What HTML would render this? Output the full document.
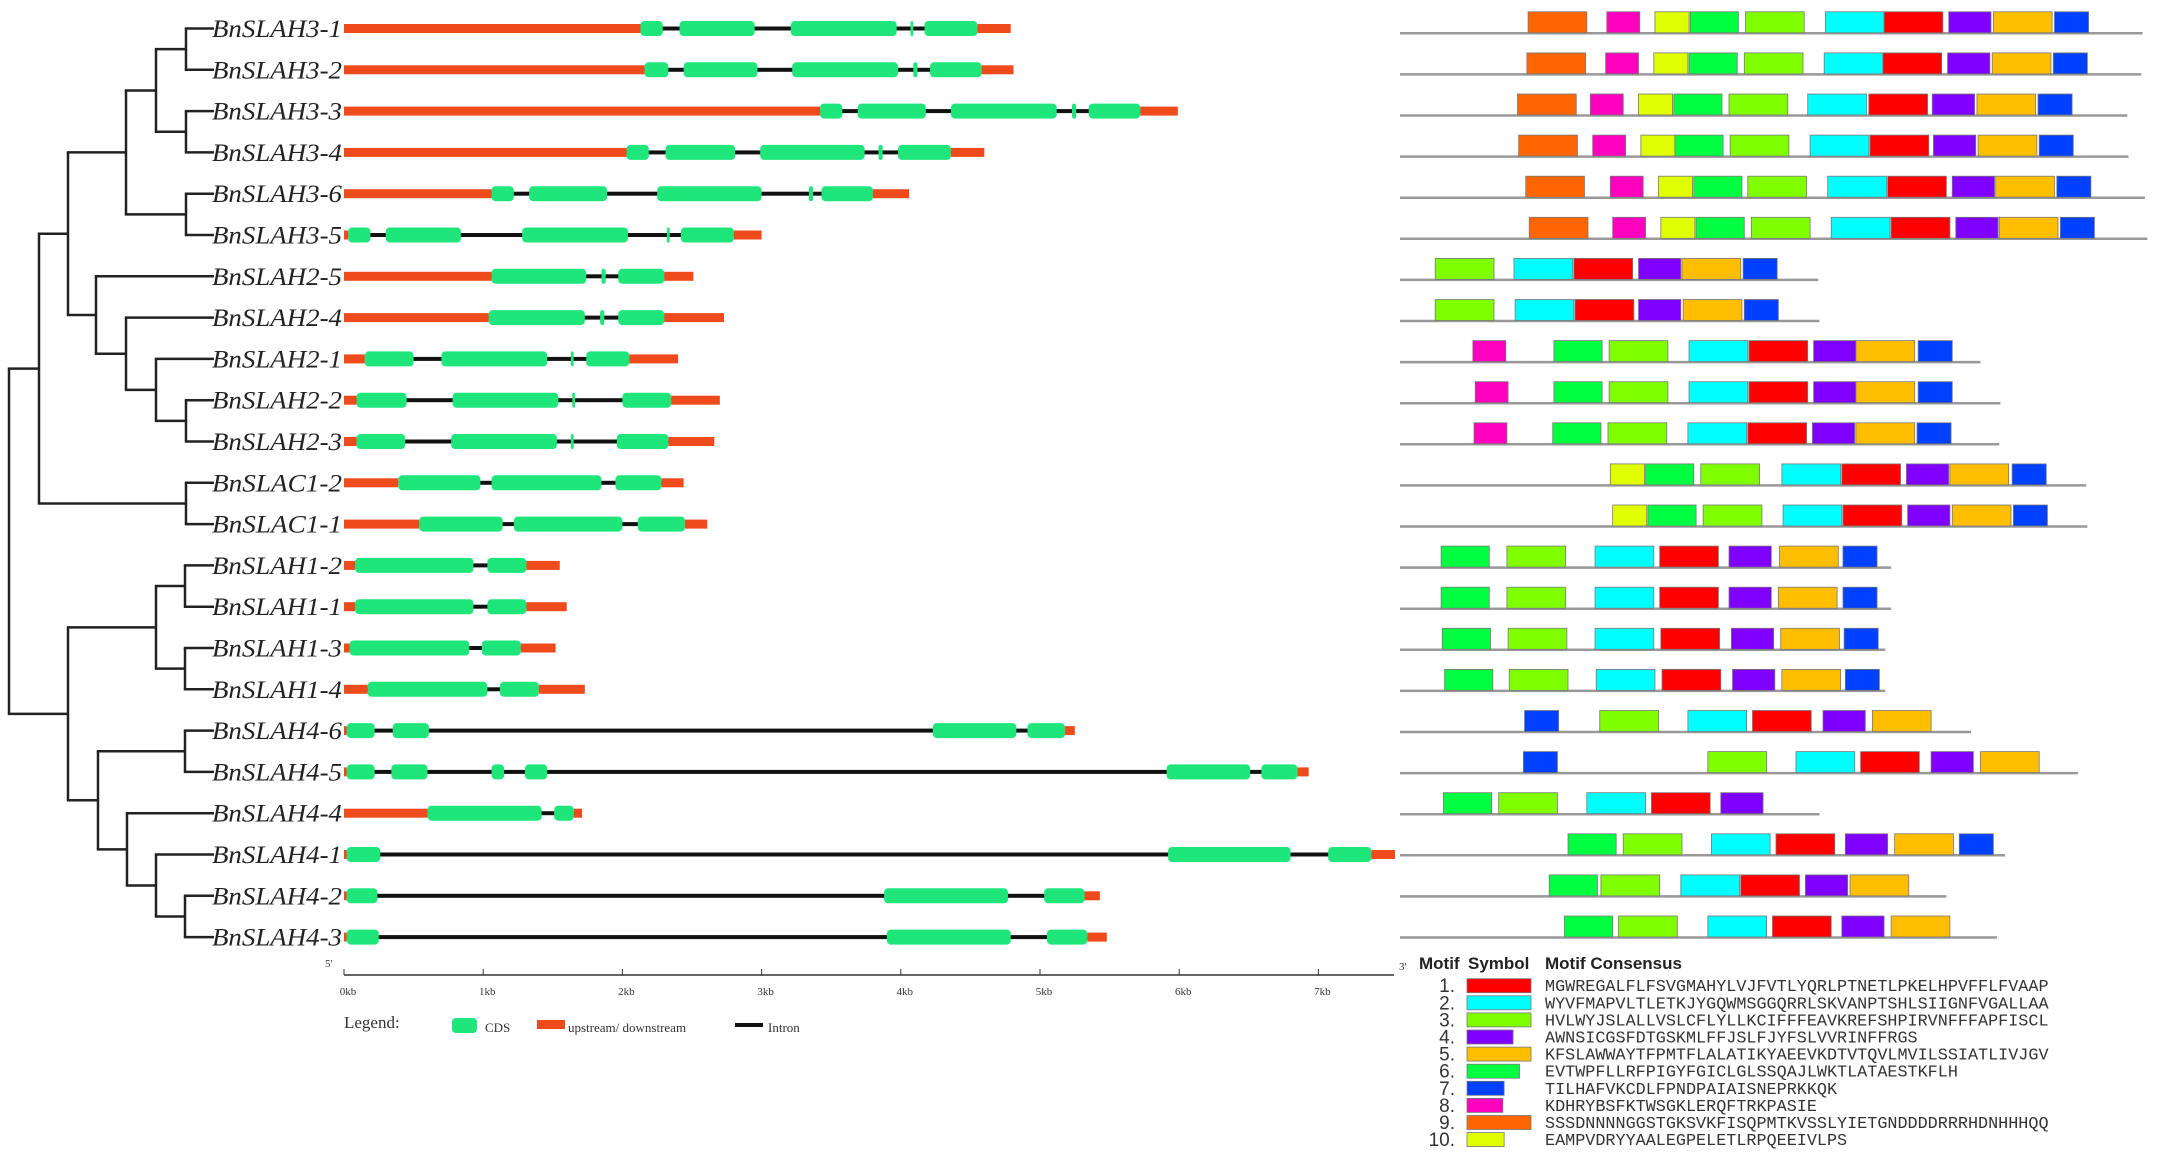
<!DOCTYPE html>
<html><head><meta charset="utf-8"><style>
html,body{margin:0;padding:0;background:#fff;}
svg{display:block;}
</style></head><body>
<svg id="fig" xmlns="http://www.w3.org/2000/svg" width="2168" height="1161" viewBox="0 0 2168 1161">
<rect width="2168" height="1161" fill="#fff"/>
<g id="tree"></g>
<g id="labels"></g>
<g id="genes"></g>
<g id="axis"></g>
<g id="motifs"></g>
<g id="glegend">
  <text x="344" y="1028" font-family="Liberation Serif, serif" font-size="17" fill="#333">Legend:</text>
  <rect x="452" y="1018" width="25" height="15" rx="4" fill="#1ee67a"/>
  <text x="485" y="1032" font-family="Liberation Serif, serif" font-size="13" fill="#333">CDS</text>
  <rect x="537" y="1020" width="28" height="9" fill="#ee4a1c"/>
  <text x="568" y="1032" font-family="Liberation Serif, serif" font-size="13" fill="#333">upstream/ downstream</text>
  <rect x="735" y="1023" width="28" height="4" fill="#111"/>
  <text x="768" y="1032" font-family="Liberation Serif, serif" font-size="13" fill="#333">Intron</text>
</g>
<g id="mlegend"></g>
</svg>
<script>
const geneNames=["BnSLAH3-1","BnSLAH3-2","BnSLAH3-3","BnSLAH3-4","BnSLAH3-6","BnSLAH3-5","BnSLAH2-5","BnSLAH2-4","BnSLAH2-1","BnSLAH2-2","BnSLAH2-3","BnSLAC1-2","BnSLAC1-1","BnSLAH1-2","BnSLAH1-1","BnSLAH1-3","BnSLAH1-4","BnSLAH4-6","BnSLAH4-5","BnSLAH4-4","BnSLAH4-1","BnSLAH4-2","BnSLAH4-3"];
// gene lengths (kb)
const geneLengths=[4.79,4.81,5.99,4.60,4.06,3.00,2.51,2.73,2.40,2.70,2.66,2.44,2.61,1.55,1.60,1.52,1.73,5.25,6.93,1.71,7.55,5.43,5.48];
// CDS exons [start,end] in kb
const geneExons=[
[[2.13,2.29],[2.41,2.95],[3.21,3.97],[4.07,4.09],[4.17,4.55]],
[[2.16,2.33],[2.44,2.97],[3.22,3.98],[4.09,4.12],[4.21,4.58]],
[[3.42,3.58],[3.69,4.18],[4.36,5.12],[5.23,5.26],[5.35,5.72]],
[[2.03,2.19],[2.31,2.81],[2.99,3.74],[3.84,3.87],[3.98,4.36]],
[[1.06,1.22],[1.33,1.89],[2.25,3.00],[3.34,3.37],[3.43,3.80]],
[[0.03,0.19],[0.30,0.84],[1.28,2.04],[2.32,2.34],[2.42,2.80]],
[[1.06,1.74],[1.85,1.88],[1.97,2.30]],
[[1.04,1.73],[1.84,1.87],[1.97,2.30]],
[[0.15,0.50],[0.70,1.46],[1.63,1.65],[1.74,2.05]],
[[0.09,0.45],[0.78,1.54],[1.64,1.66],[2.00,2.35]],
[[0.09,0.44],[0.77,1.53],[1.63,1.65],[1.96,2.33]],
[[0.39,0.98],[1.06,1.85],[1.95,2.28]],
[[0.54,1.14],[1.22,2.00],[2.11,2.45]],
[[0.08,0.93],[1.03,1.31]],
[[0.08,0.93],[1.03,1.31]],
[[0.04,0.90],[0.99,1.27]],
[[0.17,1.03],[1.12,1.40]],
[[0.02,0.22],[0.35,0.61],[4.23,4.83],[4.91,5.18]],
[[0.02,0.22],[0.34,0.60],[1.06,1.15],[1.30,1.46],[5.91,6.51],[6.59,6.85]],
[[0.60,1.42],[1.51,1.65]],
[[0.02,0.26],[5.92,6.80],[7.07,7.38]],
[[0.02,0.24],[3.88,4.77],[5.03,5.32]],
[[0.02,0.25],[3.90,4.79],[5.05,5.34]]
];
const axisTicks=[0,1,2,3,4,5,6,7];
const axisTickLabels=["0kb","1kb","2kb","3kb","4kb","5kb","6kb","7kb"];
// protein lengths (aa) and motifs [motif id, start aa]
const protLengths=[632,631,619,620,634,636,356,357,494,511,510,584,585,418,418,413,413,486,577,357,515,465,508];
const motifSites=[
[[9,109],[8,176],[10,217],[6,247],[3,294],[2,362],[1,412],[4,467],[5,505],[7,557]],
[[9,108],[8,175],[10,216],[6,246],[3,293],[2,361],[1,411],[4,466],[5,504],[7,556]],
[[9,100],[8,162],[10,203],[6,233],[3,280],[2,347],[1,399],[4,453],[5,491],[7,543]],
[[9,101],[8,164],[10,205],[6,234],[3,281],[2,349],[1,400],[4,454],[5,492],[7,544]],
[[9,107],[8,179],[10,220],[6,250],[3,296],[2,364],[1,415],[4,470],[5,507],[7,559]],
[[9,110],[8,181],[10,222],[6,252],[3,299],[2,367],[1,418],[4,473],[5,510],[7,562]],
[[3,30],[2,97],[1,148],[4,203],[5,240],[7,292]],
[[3,30],[2,98],[1,149],[4,203],[5,241],[7,293]],
[[8,62],[6,131],[3,178],[2,246],[1,297],[4,352],[5,388],[7,441]],
[[8,64],[6,131],[3,178],[2,246],[1,297],[4,352],[5,388],[7,441]],
[[8,63],[6,130],[3,177],[2,245],[1,296],[4,351],[5,388],[7,440]],
[[10,179],[6,209],[3,256],[2,325],[1,376],[4,431],[5,468],[7,521]],
[[10,181],[6,211],[3,258],[2,326],[1,377],[4,432],[5,470],[7,522]],
[[6,35],[3,91],[2,166],[1,221],[4,280],[5,323],[7,377]],
[[6,35],[3,91],[2,166],[1,221],[4,280],[5,322],[7,377]],
[[6,36],[3,92],[2,166],[1,222],[4,282],[5,324],[7,378]],
[[6,38],[3,93],[2,167],[1,223],[4,283],[5,325],[7,379]],
[[7,106],[3,170],[2,245],[1,300],[4,360],[5,402]],
[[7,105],[3,262],[2,337],[1,392],[4,452],[5,494]],
[[6,37],[3,84],[2,159],[1,214],[4,273]],
[[6,143],[3,190],[2,265],[1,320],[4,379],[5,421],[7,476]],
[[6,127],[3,171],[2,239],[1,290],[4,345],[5,383]],
[[6,140],[3,186],[2,262],[1,317],[4,376],[5,418]]
];
const motifLengths=[50,50,50,36,50,41,29,28,50,29];
const motifColors=["#ff0000","#00ffff","#80ff00","#8000ff","#ffbf00","#00ff40","#0040ff","#ff00bf","#ff6600","#e0ff00"];
const motifConsensus=["MGWREGALFLFSVGMAHYLVJFVTLYQRLPTNETLPKELHPVFFLFVAAP","WYVFMAPVLTLETKJYGQWMSGGQRRLSKVANPTSHLSIIGNFVGALLAA","HVLWYJSLALLVSLCFLYLLKCIFFFEAVKREFSHPIRVNFFFAPFISCL","AWNSICGSFDTGSKMLFFJSLFJYFSLVVRINFFRGS","KFSLAWWAYTFPMTFLALATIKYAEEVKDTVTQVLMVILSSIATLIVJGV","EVTWPFLLRFPIGYFGICLGLSSQAJLWKTLATAESTKFLH","TILHAFVKCDLFPNDPAIAISNEPRKKQK","KDHRYBSFKTWSGKLERQFTRKPASIE","SSSDNNNNGGSTGKSVKFISQPMTKVSSLYIETGNDDDDRRRHDNHHHQQ","EAMPVDRYYAALEGPELETLRPQEEIVLPS"];

const NS="http://www.w3.org/2000/svg";
function mk(tag,attrs,parent){const e=document.createElementNS(NS,tag);for(const k in attrs)e.setAttribute(k,attrs[k]);parent.appendChild(e);return e;}
const rowY=i=>28.5+i*41.3;
const kbX=kb=>344+kb*139.2;
const mRowY=i=>33.3+i*41.1;
const aaX=a=>1400+a*1.175;

// tree
const T={x:9,c:[{x:39,c:[{x:68,c:[{x:126,c:[{x:156,c:[{x:186,c:[0,1]},{x:186,c:[2,3]}]},{x:186,c:[4,5]}]},{x:96,c:[6,{x:126,c:[7,{x:156,c:[8,{x:186,c:[9,10]}]}]}]}]},{x:186,c:[11,12]}]},{x:68,c:[{x:156,c:[{x:185,c:[13,14]},{x:185,c:[15,16]}]},{x:98,c:[{x:185,c:[17,18]},{x:127,c:[19,{x:156,c:[20,{x:185,c:[21,22]}]}]}]}]}]};
const tree=document.getElementById('tree');
function draw(n){
  if(typeof n==='number') return {x:214,y:rowY(n)};
  const ch=n.c.map(draw);
  const ys=ch.map(c=>c.y);
  const y=(Math.min(...ys)+Math.max(...ys))/2;
  let v=mk('line',{x1:n.x,x2:n.x,y1:Math.min(...ys),y2:Math.max(...ys),stroke:'#222','stroke-width':2.5},tree);
  
  
  ch.forEach(c=>{let h=mk('line',{x1:n.x-1.2,x2:c.x,y1:c.y,y2:c.y,stroke:'#222','stroke-width':2.5},tree);
    
    });
  return {x:n.x,y:y};
}
const r=draw(T);

// labels and genes
const lab=document.getElementById('labels'),gen=document.getElementById('genes');
geneNames.forEach((nm,i)=>{
  const y=rowY(i);
  const t=mk('text',{x:342,y:y+8.5,'text-anchor':'end','font-family':'Liberation Serif, serif','font-style':'italic','font-size':25,fill:'#222',textLength:130,lengthAdjust:'spacingAndGlyphs'},lab);
  t.textContent=nm;
  
  
  const g=mk('g',{},gen);
  
  
  const ex=geneExons[i];
  const s=ex[0][0],e=ex[ex.length-1][1];
  const intr=mk('rect',{x:kbX(s),y:y-2,width:kbX(e)-kbX(s),height:4,fill:'#111'},g);
  
  
  const u5=mk('rect',{x:kbX(0),y:y-4.5,width:Math.max(0,kbX(s)-kbX(0)),height:9,fill:'#ee4a1c'},g);
  
  
  const u3=mk('rect',{x:kbX(e),y:y-4.5,width:Math.max(0,kbX(geneLengths[i])-kbX(e)),height:9,fill:'#ee4a1c'},g);
  
  
  ex.forEach(([a,b])=>{
    const w=kbX(b)-kbX(a);
    const c=mk('rect',{x:kbX(a),y:y-7.5,width:w,height:15,rx:Math.min(4,w/2),fill:'#1ee67a'},g);
    
    
  });
});

// axis
const ax=document.getElementById('axis');
let al=mk('line',{x1:344,x2:1394,y1:975,y2:975,stroke:'#333','stroke-width':1.5},ax);


axisTicks.forEach((k,i)=>{
  let tk=mk('line',{x1:kbX(k),x2:kbX(k),y1:969,y2:975,stroke:'#333','stroke-width':1},ax);
  
  
  let tl=mk('text',{x:kbX(k)+4,y:995,'text-anchor':'middle','font-family':'Liberation Serif, serif','font-size':11,fill:'#333'},ax);
  tl.textContent=axisTickLabels[i];
  
  
});
let p5=mk('text',{x:325,y:967,'font-family':'Liberation Serif, serif','font-size':11,fill:'#333'},ax);
p5.textContent="5'";


let p3=mk('text',{x:1399,y:970,'font-family':'Liberation Serif, serif','font-size':11,fill:'#333'},ax);
p3.textContent="3'";



// motifs
const mo=document.getElementById('motifs');
protLengths.forEach((L,i)=>{
  const y=mRowY(i);
  const g=mk('g',{},mo);
  
  
  const bl=mk('line',{x1:aaX(0),x2:aaX(L),y1:y,y2:y,stroke:'#999','stroke-width':2.5},g);
  
  
  motifSites[i].forEach(([m,s])=>{
    const b=mk('rect',{x:aaX(s),y:y-21.5,width:motifLengths[m-1]*1.175,height:21,fill:motifColors[m-1],stroke:'#777','stroke-width':0.8},g);
    
    
  });
});

// motif legend
const ml=document.getElementById('mlegend');
[["Motif",1419],["Symbol",1468],["Motif Consensus",1545]].forEach(([t,x])=>{
  const e=mk('text',{x:x,y:969,'font-family':'Liberation Sans, sans-serif','font-weight':'bold','font-size':17,fill:'#222'},ml);
  e.textContent=t;
  
  
});
motifConsensus.forEach((c,i)=>{
  const y=985.7+i*17.1;
  const n=mk('text',{x:1455,y:y+6.5,'text-anchor':'end','font-family':'Liberation Sans, sans-serif','font-size':19,fill:'#333'},ml);
  n.textContent=(i+1)+'.';
  
  
  const s=mk('rect',{x:1467,y:y-7,width:motifLengths[i]*1.28,height:14,fill:motifColors[i],stroke:'#777','stroke-width':0.8},ml);
  
  
  const t=mk('text',{x:1545,y:y+5.5,'font-family':'Liberation Mono, monospace','font-size':16.8,fill:'#333'},ml);
  t.textContent=c;
  
  
});
</script>
</body></html>
